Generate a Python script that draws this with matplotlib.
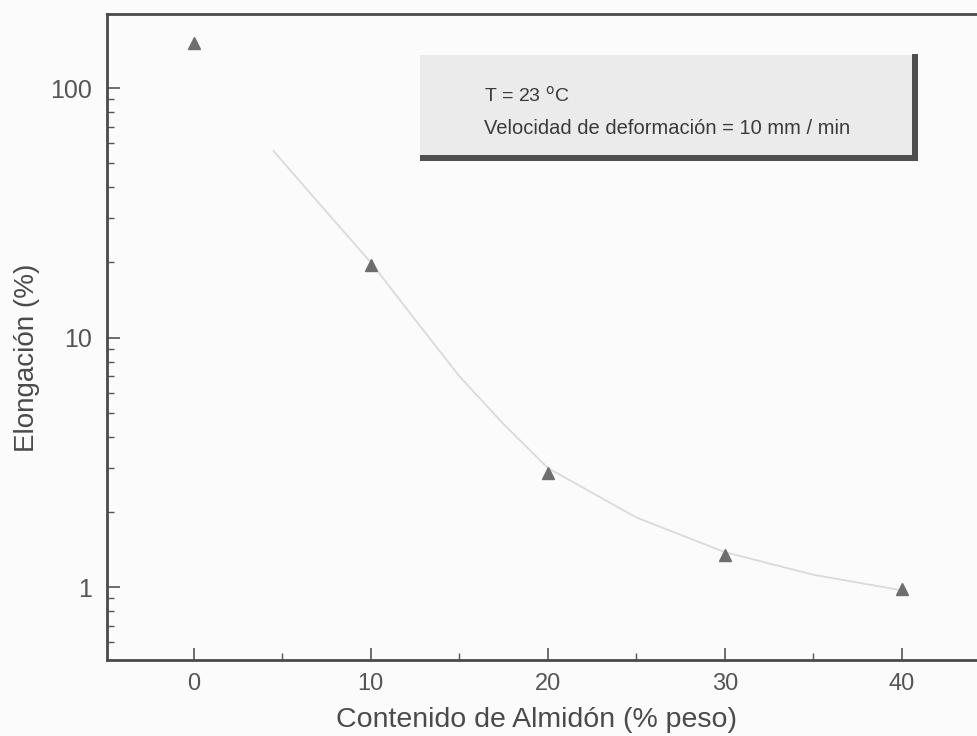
import matplotlib
matplotlib.use("Agg")
import matplotlib.pyplot as plt
from matplotlib.patches import Rectangle
from matplotlib.ticker import LogLocator, FixedLocator, NullFormatter, FuncFormatter

# data
almidon = [0, 10, 20, 30, 40]
elongacion = [152, 19.5, 2.87, 1.35, 0.98]

# light fitted curve
curva_x = [4.5, 7, 10, 12.5, 15, 17.5, 20, 25, 30, 35, 40]
curva_y = [56, 35, 20, 11.8, 7.0, 4.5, 3.0, 1.9, 1.38, 1.12, 0.97]

x_ticks = [0, 10, 20, 30, 40]
y_ticks = [1, 10, 100]

plt.rcParams['font.family'] = ['Liberation Sans', 'DejaVu Sans']

W, H = 978.0, 736.0
fig = plt.figure(figsize=(9.78, 7.36), dpi=100, facecolor='#fbfbfb')
ax = fig.add_axes([107 / W, 1 - 660 / H, (W - 107) / W, (660 - 14) / H])
ax.set_facecolor('#fbfbfb')

ax.plot(curva_x, curva_y, color='#dadada', lw=1.3, zorder=2)
ax.plot(almidon, elongacion, linestyle='none', marker='^', ms=8,
        color='#6e6e6e', zorder=3)

ax.set_yscale('log')
ax.set_xlim(-4.9, 44.3)
ax.set_ylim(0.51, 198)

ax.xaxis.set_major_locator(FixedLocator(x_ticks))
ax.xaxis.set_minor_locator(FixedLocator([-5, 5, 15, 25, 35, 45]))
ax.yaxis.set_major_locator(FixedLocator(y_ticks))
ax.yaxis.set_minor_locator(LogLocator(base=10, subs=range(2, 10)))
ax.yaxis.set_major_formatter(FuncFormatter(lambda v, p: '%d' % v))
ax.yaxis.set_minor_formatter(NullFormatter())

ax.tick_params(which='both', direction='in', color='#555555', labelcolor='#555555')
ax.tick_params(which='major', length=9, width=1.2)
ax.tick_params(which='minor', length=5, width=1.0)
ax.tick_params(axis='y', which='both', left=True, right=False, pad=11, labelsize=18)
ax.tick_params(axis='x', which='both', top=False, pad=9, labelsize=17)

for side in ['left', 'bottom', 'top']:
    ax.spines[side].set_color('#4a4a4a')
    ax.spines[side].set_linewidth(2)
ax.spines['right'].set_visible(False)

ax.set_xlabel('Contenido de Almidón (% peso)', fontsize=20.5, color='#4a4a4a')
ax.set_ylabel('Elongación (%)', fontsize=20, color='#4a4a4a')
ax.xaxis.set_label_coords((537 - 107) / (W - 107), -(707 - 660) / 646.0)
ax.yaxis.set_label_coords(-(107 - 40) / (W - 107), (660 - 358) / 646.0)

# text box with shadow on right and bottom
fig.add_artist(Rectangle((420 / W, 1 - 155 / H), (912 - 420) / W, (155 - 55) / H,
                         transform=fig.transFigure, facecolor='#ebebeb',
                         edgecolor='none', zorder=5))
fig.add_artist(Rectangle((420 / W, 1 - 161 / H), (918 - 420) / W, 6 / H,
                         transform=fig.transFigure, facecolor='#4f4f4f',
                         edgecolor='none', zorder=6))
fig.add_artist(Rectangle((912 / W, 1 - 161 / H), 6 / W, (161 - 54) / H,
                         transform=fig.transFigure, facecolor='#4f4f4f',
                         edgecolor='none', zorder=6))
fig.text(484 / W, 1 - 96 / H, 'T = 23 $^{\\mathrm{o}}$C', fontsize=14, color='#3a3a3a',
         va='center', ha='left', zorder=7)
fig.text(484 / W, 1 - 128 / H, 'Velocidad de deformación = 10 mm / min', fontsize=14.5,
         color='#3a3a3a', va='center', ha='left', zorder=7)

fig.savefig('out.png', dpi=100, facecolor=fig.get_facecolor())
